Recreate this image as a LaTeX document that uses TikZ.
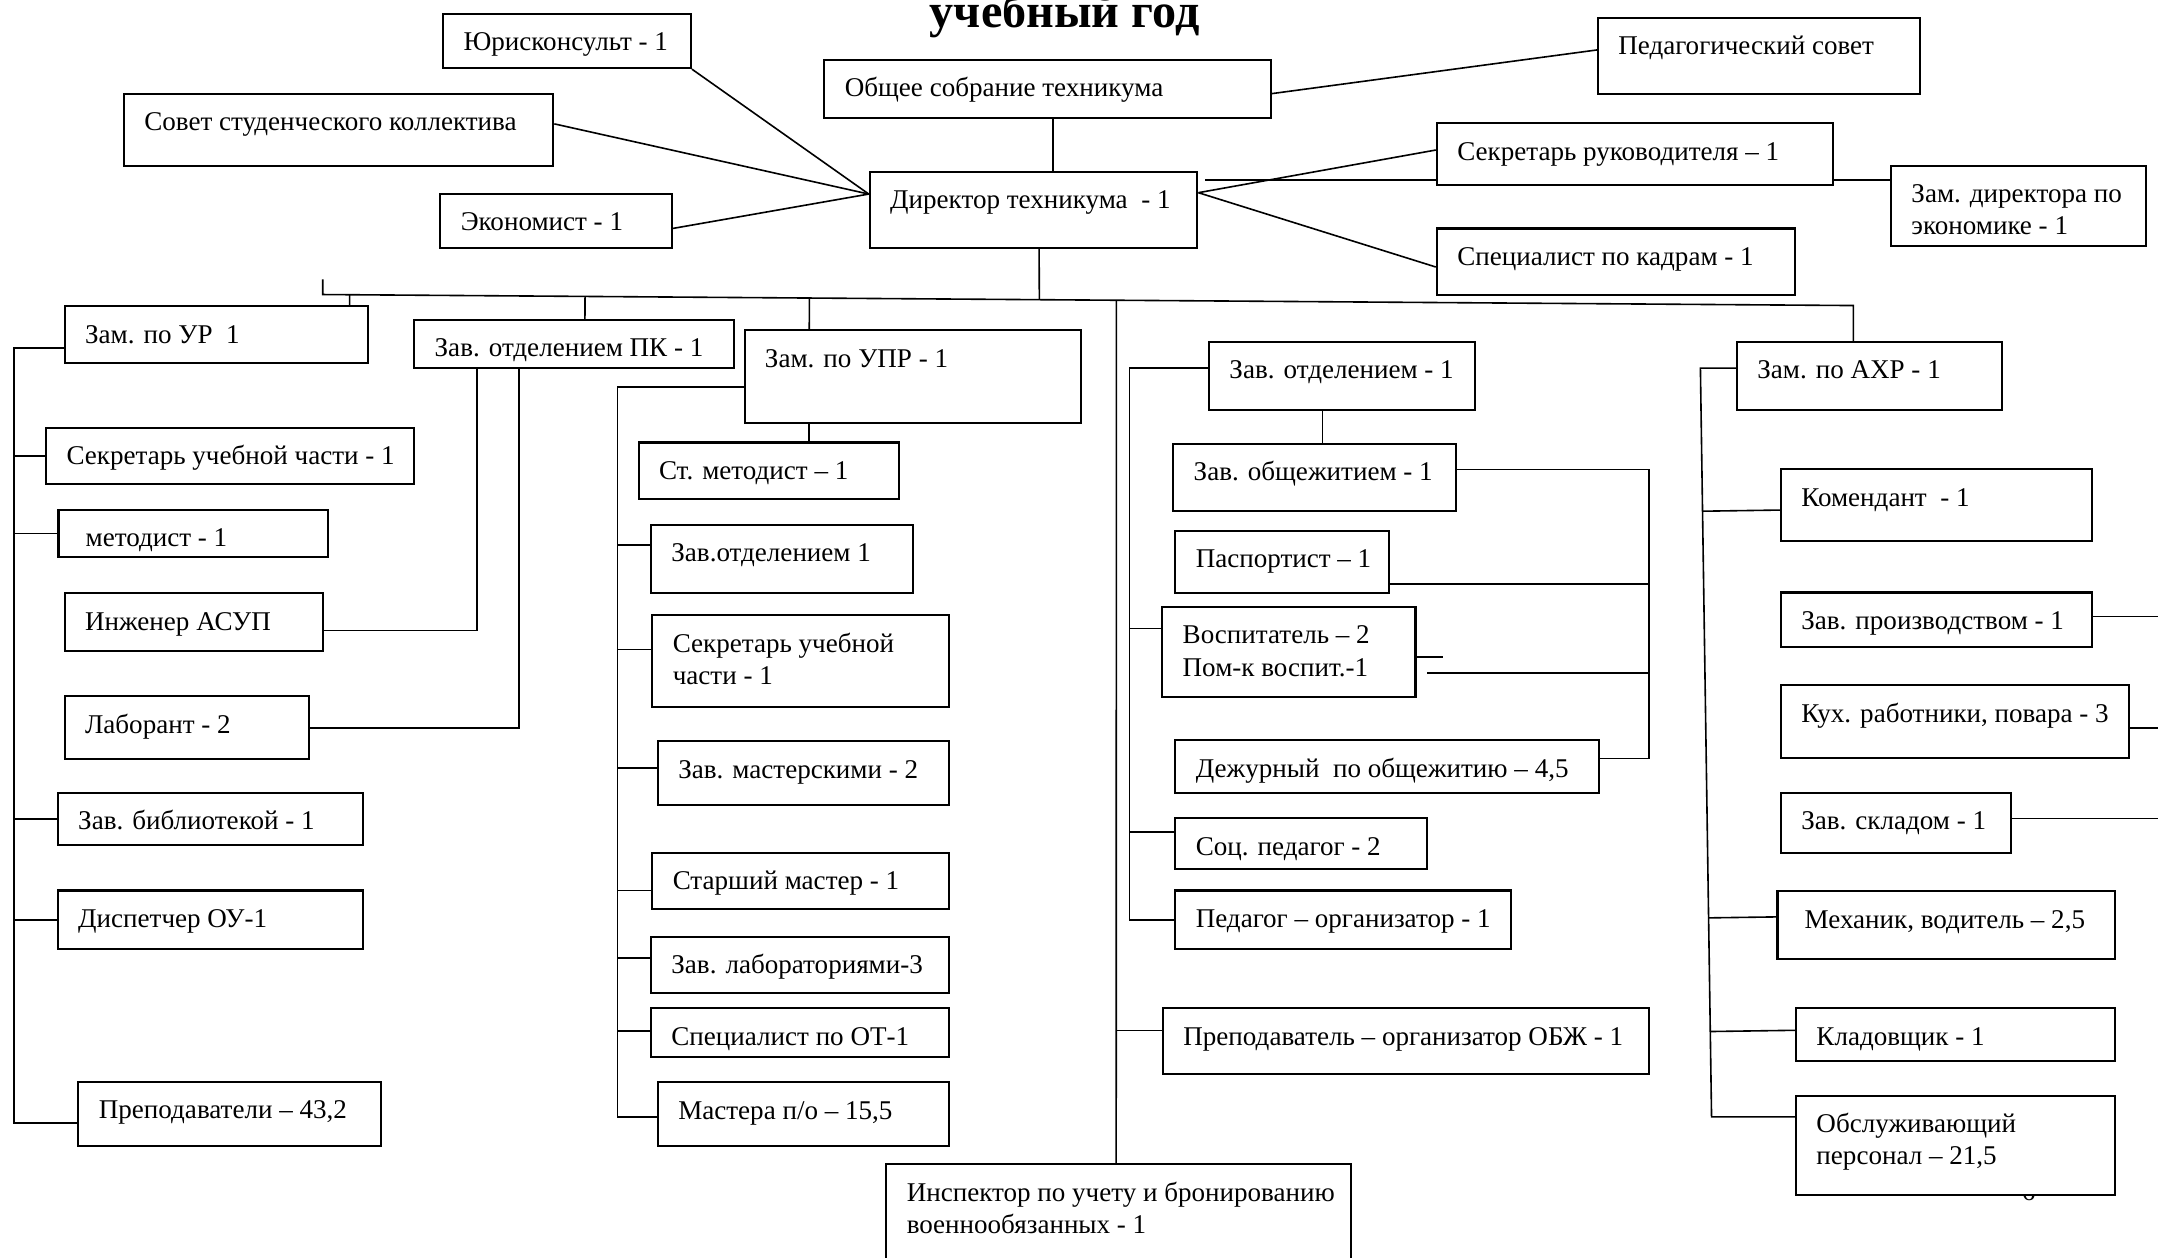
\documentclass[tikz,border=0pt]{standalone}
\usepackage{fontspec}
\setmainfont{Liberation Serif}
\usetikzlibrary{fit,calc}

\tikzset{
  box/.style={draw, rectangle, line width=0.9pt, fill=white, inner sep=0pt},
  lbl/.style={anchor=north west, inner sep=0pt, align=left, font=\fontsize{11.8}{14}\selectfont}
}

% box from (x1,y1) to (x2,y2), text in its upper left corner
\newcommand{\orgbox}[6]{%
  \node[box, fit={(#2,#3) (#4,#5)}] (#1) {};
  \node[lbl] (#1-t) at ([shift={(15,12)}]#1.north west) {\rule{0pt}{9pt}#6};
}

\begin{document}
\begin{tikzpicture}[x=0.6pt, y=-0.6pt, line width=0.7pt]

\useasboundingbox (0,0) rectangle (1568,914);

\node[font=\bfseries\fontsize{21}{24}\selectfont, anchor=base] (title) at (773.5,20) {учебный год};

% top level
\orgbox{jur}{322}{10}{502}{49.5}{Юрисконсульт - 1}
\orgbox{sov}{90}{68}{402}{120.5}{Совет студенческого коллектива}
\orgbox{obs}{599}{43.5}{923.5}{86}{Общее собрание техникума}
\orgbox{ped}{1161}{13}{1395}{68}{Педагогический совет}
\orgbox{dir}{632}{125}{870}{180}{Директор техникума \ - 1}
\orgbox{eko}{320}{141}{488}{180.5}{Экономист - 1}
\orgbox{sek}{1044}{89.5}{1332}{134.5}{Секретарь руководителя – 1}
\orgbox{zde}{1374}{120.5}{1559}{179}{Зам. директора по\\экономике - 1}
\orgbox{kad}{1044}{166}{1304}{214}{Специалист по кадрам - 1}

\coordinate (dirIn) at (dir.west |- 0,141);
\draw (jur.south east) -- (dirIn);
\draw (sov.east |- 0,90) -- (dirIn);
\draw (eko.east |- 0,166) -- (dirIn);
\draw (obs.south -| 765,0) -- (dir.north -| 765,0);
\draw (obs.east |- 0,68) -- (ped.west |- 0,36.3);
\draw (dir.east |- 0,140) -- (sek.west |- 0,109);
\draw (dir.east |- 0,140) -- (kad.west |- 0,194);
\draw ([xshift=3pt]dir.east |- 0,131) -- (sek.west |- 0,131);
\draw (sek.east |- 0,131) -- (zde.west |- 0,131);

% column: zam po UR
\orgbox{zur}{47}{222.5}{267.5}{263.5}{Зам. по УР \ 1}
\orgbox{suc}{33.5}{311}{301}{351.5}{Секретарь учебной части - 1}
\orgbox{met}{42.5}{370.5}{238.5}{404.5}{\ методист - 1}
\orgbox{inz}{47}{431}{234.5}{473}{Инженер АСУП}
\orgbox{lab}{47}{506}{224.5}{551.5}{Лаборант - 2}
\orgbox{bib}{42}{576}{263.5}{614}{Зав. библиотекой - 1}
\orgbox{dis}{42}{647}{263.5}{689.5}{Диспетчер ОУ-1}
\orgbox{pre}{57}{786}{277}{833}{Преподаватели – 43,2}

% column: zav. PK and zam po UPR
\orgbox{zpk}{301}{232.5}{533.5}{267.5}{Зав. отделением ПК - 1}
\orgbox{upr}{541}{240}{785.5}{307.5}{Зам. по УПР - 1}
\orgbox{stm}{464}{321.5}{653}{362.5}{Ст. методист – 1}
\orgbox{zo1}{473}{381.5}{663.5}{431}{Зав.отделением 1}
\orgbox{su2}{474}{447}{689.5}{513.5}{Секретарь учебной\\части - 1}
\orgbox{zma}{478}{538.5}{689.5}{585}{Зав. мастерскими - 2}
\orgbox{smt}{474}{619.5}{689.5}{660.5}{Старший мастер - 1}
\orgbox{zla}{473}{680.5}{689.5}{721.5}{Зав. лабораториями-3}
\orgbox{sot}{473}{732.5}{689.5}{768}{Специалист по ОТ-1}
\orgbox{mpo}{478}{786.5}{689.5}{832.5}{Мастера п/о – 15,5}
\orgbox{ins}{644}{846}{981.5}{930}{Инспектор по учету и бронированию\\военнообязанных - 1}

% column: zav. otdeleniem
\orgbox{zot}{878.5}{248.5}{1072}{298}{Зав. отделением - 1}
\orgbox{zob}{852.5}{322.5}{1058}{371}{Зав. общежитием - 1}
\orgbox{pas}{854}{385.5}{1009.5}{431}{Паспортист – 1}
\orgbox{vos}{844.5}{441}{1028.5}{506.5}{Воспитатель – 2\\Пом-к воспит.-1}
\orgbox{dez}{854}{538}{1162}{576}{Дежурный \ по общежитию – 4,5}
\orgbox{soc}{854}{594.5}{1037}{631.5}{Соц. педагог - 2}
\orgbox{peo}{854}{647}{1098}{689.5}{Педагог – организатор - 1}
\orgbox{obz}{845}{732.5}{1198}{780.5}{Преподаватель – организатор ОБЖ - 1}

% column: zam po AHR
\node[font=\fontsize{11.8}{14}\selectfont, anchor=base, inner sep=0pt] (pgnum) at (1474,872) {6};
\orgbox{axr}{1262}{248.5}{1454.5}{298}{Зам. по АХР - 1}
\orgbox{kom}{1294}{341}{1520}{393}{Комендант \ - 1}
\orgbox{zpr}{1294}{430.5}{1520}{470}{Зав. производством - 1}
\orgbox{kux}{1294}{498}{1547}{551}{Кух. работники, повара - 3}
\orgbox{zsk}{1294}{576}{1461}{619.5}{Зав. складом - 1}
\orgbox{mex}{1291.5}{647.5}{1537}{697}{\ Механик, водитель – 2,5}
\orgbox{kla}{1305}{732.5}{1537}{771}{Кладовщик - 1}
\orgbox{osl}{1305}{796}{1537}{868.5}{Обслуживающий\\персонал – 21,5}

% main bus
\coordinate (busL) at (234.5,214);
\coordinate (busR) at (1346.6,222);
\draw (234.5,203) -- (busL) -- (busR) -- (axr.north -| 1346.6,0);
\draw (dir.south -| 755,0) -- ($(busL)!(755,250)!(busR)$);
\foreach \x/\n in {254/zur, 425/zpk, 588/upr}
  \draw ($(busL)!(\n.north -| \x,0)!(busR)$) -- (\n.north -| \x,0);
\draw ($(busL)!(811,250)!(busR)$) -- (ins.north -| 811,0);

% links: zam po UR
\coordinate (urT) at (10.3,253);
\draw (zur.west |- urT) -- (urT) |- (pre.west |- 0,816);
\foreach \n in {suc,met,bib,dis}
  \draw (urT |- \n.west) -- (\n.west);
\draw (zpk.south -| 346.7,0) |- (inz.east |- 0,458);
\draw (zpk.south -| 377,0) |- (lab.east |- 0,529);

% links: zam po UPR
\coordinate (uprT) at (448.8,281);
\draw (upr.west |- uprT) -- (uprT) |- (mpo.west |- 0,811.5);
\foreach \n/\y in {zo1/396, su2/472, zma/558, smt/647, zla/696, sot/749}
  \draw (uprT |- 0,\y) -- (\n.west |- 0,\y);
\draw (upr.south -| 588,0) -- (stm.north -| 588,0);

% links: zav. otdeleniem
\coordinate (insT) at (811,748.6);
\draw (insT) -- (obz.west |- insT);
\coordinate (zotT) at (820.6,267.5);
\draw (zot.west |- zotT) -- (zotT) |- (peo.west |- 0,668.6);
\foreach \n/\y in {vos/456.7, soc/604.7}
  \draw (zotT |- 0,\y) -- (\n.west |- 0,\y);
\draw (zot.south -| 961,0) -- (zob.north -| 961,0);
\coordinate (dorT) at (1198,341);
\draw (zob.east |- dorT) -- (dorT) |- (dez.east |- 0,551);
\draw (pas.east |- 0,424.5) -- (dorT |- 0,424.5);
\draw (1037,489) -- (dorT |- 0,489);
\draw (vos.east |- 0,477.5) -- ++(19.5,0);

% links: zam po AHR
\coordinate (axT) at (1235.5,267.5);
\coordinate (axB) at (1243.6,811.5);
\draw (axr.west |- axT) -- (axT) -- (axB) -- (osl.west |- axB);
\foreach \n/\y in {kom/370.6, mex/666.2, kla/748.6}
  \draw ($(axT)!(\n.west |- 0,\y)!(axB)$) -- (\n.west |- 0,\y);
\foreach \n/\y in {zpr/448, kux/529, zsk/594.6}
  \draw (\n.east |- 0,\y) -- (1570,\y);

\end{tikzpicture}
\end{document}
